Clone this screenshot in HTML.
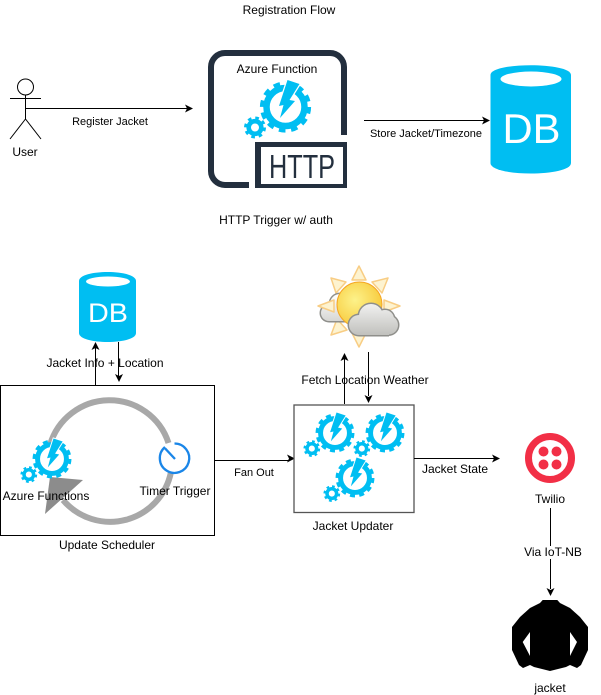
<!DOCTYPE html>
<html>
<head>
<meta charset="utf-8">
<style>
html,body{margin:0;padding:0;background:#fff}
svg{display:block}
text{font-family:"Liberation Sans",sans-serif;fill:#000;text-anchor:middle}
.s{font-size:11px}
.m{font-size:12px}
</style>
</head>
<body>
<svg width="601" height="695" viewBox="0 0 601 695" xmlns="http://www.w3.org/2000/svg">
<defs>
<g id="gear">
  <circle cx="0" cy="0" r="19" fill="none" stroke="#00bef2" stroke-width="6.500"/>
  <circle cx="0" cy="0" r="23.500" fill="none" stroke="#00bef2" stroke-width="4.200" stroke-dasharray="6.6 5.7"/>
  <circle cx="-30.500" cy="20.500" r="6.300" fill="none" stroke="#00bef2" stroke-width="4.600"/>
  <circle cx="-30.500" cy="20.500" r="9.500" fill="none" stroke="#00bef2" stroke-width="3" stroke-dasharray="3.6 3.86"/>
  <polygon points="2,-27 14,-23 4,-7 9.500,-6 -5.500,11 -2,-2 -6.500,-1" fill="#00bef2" stroke="#fff" stroke-width="2.500" paint-order="stroke"/>
</g>
<radialGradient id="sun" cx="0.4" cy="0.4" r="0.65">
  <stop offset="0" stop-color="#fdf28a"/><stop offset="1" stop-color="#f7c93a"/>
</radialGradient>
<linearGradient id="cloud" gradientUnits="userSpaceOnUse" x1="0" y1="295" x2="0" y2="338">
  <stop offset="0" stop-color="#ffffff"/><stop offset="1" stop-color="#bcbcb8"/>
</linearGradient>
</defs>

<!-- Registration flow -->
<text class="m" x="289" y="14">Registration Flow</text>

<circle cx="25.500" cy="87" r="8" fill="#fff" stroke="#000" stroke-width="1"/>
<path d="M25.500 95V119M10 98.500H41M25.500 119L10 139M25.500 119L41 139" fill="none" stroke="#000" stroke-width="1"/>
<text class="m" x="25" y="156">User</text>
<path d="M26 108.500H187" stroke="#000" stroke-width="1"/>
<polygon points="193,108.500 185,104.500 187,108.500 185,112.500" fill="#000"/>
<text class="s" x="110" y="125">Register Jacket</text>

<!-- HTTP icon -->
<path d="M344 135V67A14 14 0 0 0 330 53H225A14 14 0 0 0 211 67V171A14 14 0 0 0 225 185H249" fill="none" stroke="#232f3e" stroke-width="6"/>
<path d="M255 142H347V188H255Z M261 147V184H343V147Z" fill="#232f3e" fill-rule="evenodd"/>
<text x="302" y="178" font-size="33" textLength="66" lengthAdjust="spacingAndGlyphs" style="fill:#232f3e">HTTP</text>
<text class="m" x="277" y="73">Azure Function</text>
<use href="#gear" transform="translate(285.500,107)"/>
<text class="m" x="276" y="224">HTTP Trigger w/ auth</text>

<path d="M364 120.500H484" stroke="#000" stroke-width="1"/>
<polygon points="490,120.500 482,116.500 484,120.500 482,124.500" fill="#000"/>
<text class="s" x="426" y="137">Store Jacket/Timezone</text>

<!-- Big DB -->
<path d="M490.500 75C490.500 62 571 62 571 75V163C571 177 490.500 177 490.500 163Z" fill="#00bef2"/>
<ellipse cx="531" cy="79" rx="30.500" ry="7.500" fill="#fff"/>
<text x="531.500" y="143" font-size="42" textLength="58" lengthAdjust="spacingAndGlyphs" style="fill:#fff">DB</text>

<!-- Small DB -->
<path d="M79 281C79 269 136 269 136 281V333C136 345 79 345 79 333Z" fill="#00bef2"/>
<ellipse cx="108" cy="281.500" rx="22" ry="5" fill="#fff"/>
<text x="108" y="322" font-size="27" textLength="40" lengthAdjust="spacingAndGlyphs" style="fill:#fff">DB</text>

<path d="M95.500 385V348" stroke="#000" stroke-width="1"/>
<polygon points="95.500,342 91.500,350 95.500,348 99.500,350" fill="#000"/>
<path d="M118.500 342V376" stroke="#000" stroke-width="1"/>
<polygon points="119,382 115,374 119,376 123,374" fill="#000"/>
<text class="m" x="105" y="367">Jacket Info + Location</text>

<!-- Update Scheduler -->
<rect x="0.500" y="385.500" width="214" height="150" fill="#fff" stroke="#000" stroke-width="1"/>
<path d="M168.500 443A62 62 0 0 0 50 445" fill="none" stroke="#a8a8a8" stroke-width="6"/>
<path d="M171 472A62 62 0 0 1 63 500" fill="none" stroke="#a8a8a8" stroke-width="6"/>
<polygon points="83,480 50,477 45,514" fill="#8c8c8c"/>
<use href="#gear" transform="translate(52,459) scale(0.76)"/>
<path d="M174.500 443.500A14.700 14.700 0 1 1 165 447" fill="none" stroke="#1a86e8" stroke-width="2.300"/>
<path d="M165 448.300L175 459" stroke="#1a86e8" stroke-width="2.300"/>
<text class="m" x="46" y="500">Azure Functions</text>
<text class="m" x="175" y="495">Timer Trigger</text>
<text class="m" x="107" y="549">Update Scheduler</text>

<path d="M214 460.500H289" stroke="#000" stroke-width="1"/>
<polygon points="295,458.500 287,454.500 289,458.500 287,462.500" fill="#000"/>
<text class="s" x="254" y="476">Fan Out</text>

<!-- Weather -->
<g fill="#fdf3d0" stroke="#f8cd84" stroke-width="1.500" stroke-linejoin="round">
  <polygon points="359,266 352,280 366,280"/>
  <polygon points="388,278 372,282 382,293"/>
  <polygon points="400,306 384,300 384,312"/>
  <polygon points="359,347 352,333 366,333"/>
  <polygon points="331,335 347,330 337,319"/>
  <polygon points="331,278 346,282 336,293"/>
</g>
<g fill="#8f8f8b">
  <circle cx="329" cy="313" r="9.500"/><circle cx="340" cy="304" r="11.500"/><rect x="329" y="308" width="24" height="14.500"/>
</g>
<g fill="url(#cloud)">
  <circle cx="329" cy="313" r="8"/><circle cx="340" cy="304" r="10"/><rect x="329" y="308" width="24" height="13"/>
</g>
<polygon points="318,306 334,300 334,312" fill="#fdf3d0" stroke="#f8cd84" stroke-width="1.500" stroke-linejoin="round"/>
<circle cx="359.500" cy="304.500" r="22.500" fill="url(#sun)" stroke="#f5a623" stroke-width="1"/>
<g fill="#8f8f8b">
  <circle cx="359" cy="325" r="11.500"/><circle cx="371" cy="316" r="13.500"/><circle cx="385" cy="319" r="10.500"/><circle cx="388.500" cy="325" r="11"/><rect x="359" y="320" width="30" height="16.500"/>
</g>
<g fill="url(#cloud)">
  <circle cx="359" cy="325" r="10"/><circle cx="371" cy="316" r="12"/><circle cx="385" cy="319" r="9"/><circle cx="388.500" cy="325" r="9.500"/><rect x="359" y="318" width="30" height="17"/>
</g>

<path d="M344.500 404V359" stroke="#000" stroke-width="1"/>
<polygon points="344.500,353 340.500,361 344.500,359 348.500,361" fill="#000"/>
<path d="M368.500 352V396" stroke="#000" stroke-width="1"/>
<polygon points="368.500,403 364.500,395 368.500,397 372.500,395" fill="#000"/>
<text class="m" x="365" y="384">Fetch Location Weather</text>

<!-- Jacket Updater -->
<rect x="294" y="405" width="120" height="107.500" fill="#fff" stroke="#555" stroke-width="1.300"/>
<use href="#gear" transform="translate(335,433) scale(0.76)"/>
<use href="#gear" transform="translate(385,433) scale(0.76)"/>
<use href="#gear" transform="translate(355,478) scale(0.76)"/>
<text class="m" x="353" y="530">Jacket Updater</text>

<path d="M414 458.500H494" stroke="#000" stroke-width="1"/>
<polygon points="500,458.500 492,454.500 494,458.500 492,462.500" fill="#000"/>
<text class="m" x="455" y="473">Jacket State</text>

<!-- Twilio -->
<circle cx="550" cy="458" r="21.500" fill="none" stroke="#f22f46" stroke-width="7"/>
<circle cx="543.500" cy="451.500" r="5" fill="#f22f46"/>
<circle cx="556.500" cy="451.500" r="5" fill="#f22f46"/>
<circle cx="543.500" cy="464.500" r="5" fill="#f22f46"/>
<circle cx="556.500" cy="464.500" r="5" fill="#f22f46"/>
<text class="m" x="550" y="503">Twilio</text>

<path d="M550.500 508V589" stroke="#000" stroke-width="1"/>
<polygon points="550.500,596 546.500,588 550.500,590 554.500,588" fill="#000"/>
<rect x="524" y="546" width="58" height="13" fill="#fff"/>
<text class="m" x="553" y="556">Via IoT-NB</text>

<!-- Jacket -->
<path fill-rule="evenodd" fill="#000" d="M542.700 600H557.300L560 603L570 608L580 617L588 627V650L581 665L577 668L570 665L566 667L550 671L534 667L530 665L523 668L519 665L512 650V627L520 617L530 608L540 603Z M530 632L522.700 642L530 656Z M570 632L577 642L570 656Z"/>
<text class="m" x="550" y="692">jacket</text>
</svg>
</body>
</html>
